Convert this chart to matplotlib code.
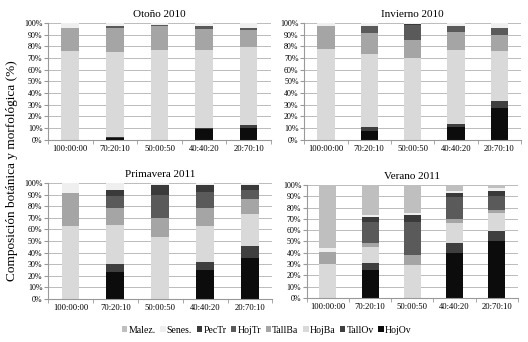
import numpy as np
import matplotlib.pyplot as plt

plt.rcParams['font.family'] = ['Liberation Serif', 'DejaVu Serif']

cats = ['100:00:00', '70:20:10', '50:00:50', '40:40:20', '20:70:10']
series = ['HojOv', 'TallOv', 'HojBa', 'TallBa', 'HojTr', 'PecTr', 'Senes.', 'Malez.']
colors = ['#0c0c0c', '#3f3f3f', '#d9d9d9', '#a5a5a5', '#5a5a5a', '#3a3a3a', '#efefef', '#bfbfbf']

# percentages per series (bottom to top) for each category
otono = {
    'HojOv':  [0, 2, 0, 9, 10],
    'TallOv': [0, 0.5, 0, 1, 2.5],
    'HojBa':  [76, 72.5, 77, 67, 66.5],
    'TallBa': [20, 21, 20, 18, 15],
    'HojTr':  [0, 1.5, 1.5, 2.5, 2],
    'PecTr':  [0, 0, 0, 0, 0],
    'Senes.': [4, 2.5, 1.5, 2.5, 4],
    'Malez.': [0, 0, 0, 0, 0],
}
invierno = {
    'HojOv':  [0, 8, 0, 11, 27],
    'TallOv': [0, 3, 0, 3, 6],
    'HojBa':  [78, 62, 70, 63, 43],
    'TallBa': [19, 18, 15, 15, 14],
    'HojTr':  [0, 6, 13, 5, 6],
    'PecTr':  [0, 0, 1, 0, 0],
    'Senes.': [3, 3, 1, 3, 4],
    'Malez.': [0, 0, 0, 0, 0],
}
primavera = {
    'HojOv':  [0, 23, 0, 25, 35],
    'TallOv': [0, 7, 0, 7, 11],
    'HojBa':  [63, 34, 53, 31, 27],
    'TallBa': [28, 14, 17, 15, 13],
    'HojTr':  [0, 11, 20, 14, 8],
    'PecTr':  [0, 5, 8, 6, 4],
    'Senes.': [9, 6, 2, 2, 2],
    'Malez.': [0, 0, 0, 0, 0],
}
verano = {
    'HojOv':  [0, 25, 0, 40, 50],
    'TallOv': [0, 6, 0, 9, 9],
    'HojBa':  [30, 14, 29, 17, 16],
    'TallBa': [11, 4, 9, 4, 3],
    'HojTr':  [0, 18, 29, 19, 12],
    'PecTr':  [0, 5, 6, 4, 5],
    'Senes.': [3, 1, 2, 2, 2],
    'Malez.': [56, 27, 25, 5, 3],
}

panels = [
    ('Otoño 2010', otono, [0.091, 0.591, 0.422, 0.342]),
    ('Invierno 2010', invierno, [0.576, 0.591, 0.411, 0.342]),
    ('Primavera 2011', primavera, [0.091, 0.126, 0.425, 0.339]),
    ('Verano 2011', verano, [0.581, 0.129, 0.400, 0.330]),
]

fig = plt.figure(figsize=(5.28, 3.42), dpi=100)
x = np.arange(len(cats))
handles = []
for title, data, rect in panels:
    ax = fig.add_axes(rect)
    bottom = np.zeros(len(cats))
    for s, c in zip(series, colors):
        vals = np.array(data[s], dtype=float)
        b = ax.bar(x, vals, 0.4, bottom=bottom, color=c, label=s, zorder=2)
        bottom += vals
        if len(handles) < len(series):
            handles.append(b)
    ax.set_xlim(-0.5, len(cats) - 0.5)
    ax.set_ylim(0, 100)
    ax.set_yticks(np.arange(0, 101, 10))
    ax.set_yticklabels([f'{v}%' for v in range(0, 101, 10)], fontsize=5.8)
    ax.set_xticks(x)
    ax.set_xticklabels(cats, fontsize=6.2)
    ax.set_xticks(np.arange(-0.5, len(cats), 1), minor=True)
    ax.tick_params(axis='x', which='major', length=0, pad=4)
    ax.tick_params(axis='x', which='minor', length=3, color='#999999')
    ax.tick_params(axis='y', length=3, color='#999999', pad=1)
    ax.grid(axis='y', color='#bbbbbb', linewidth=0.7, zorder=0)
    for sp in ['top', 'right']:
        ax.spines[sp].set_visible(False)
    for sp in ['left', 'bottom']:
        ax.spines[sp].set_color('#999999')
        ax.spines[sp].set_linewidth(0.8)
    ax.set_title(title, fontsize=8, pad=4)

fig.text(0.022, 0.5, 'Composición botánica y morfológica (%)', rotation=90,
         va='center', ha='center', fontsize=9.5)

leg_h = handles[::-1]
leg_l = series[::-1]
fig.legend(leg_h, leg_l, loc='center', bbox_to_anchor=(0.505, 0.035), ncol=8,
           frameon=False, fontsize=7, handlelength=0.55, handleheight=0.55,
           handletextpad=0.1, columnspacing=0.5)

fig.savefig('out.png', dpi=100)
